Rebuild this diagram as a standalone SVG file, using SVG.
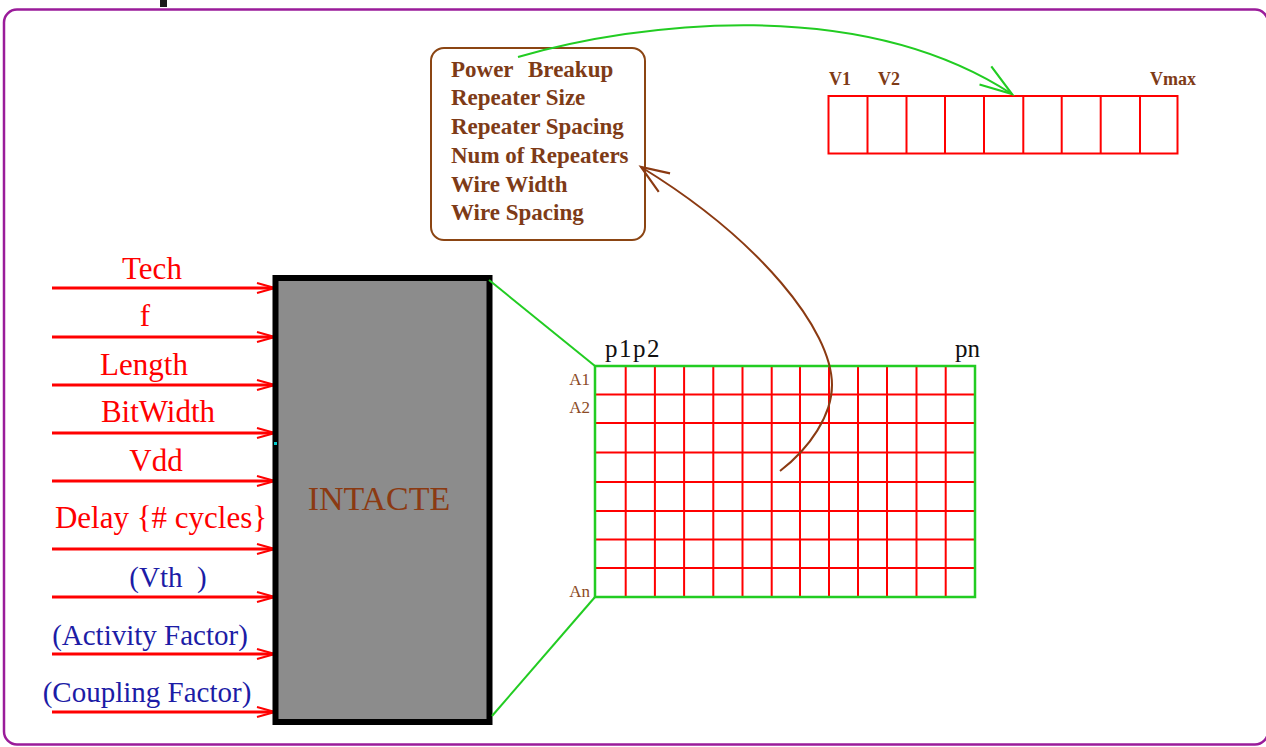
<svg xmlns="http://www.w3.org/2000/svg" width="1266" height="747" viewBox="0 0 1266 747">
<defs>
<style>
text{font-family:Liberation Serif,Times New Roman,serif}
.in{stroke:#ff0000;stroke-width:3;fill:none}
.lr{font-size:31px;fill:#ff0000;text-anchor:middle}
.lb{font-size:29px;fill:#1c1ca6;text-anchor:middle}
.bx{font-size:23px;font-weight:bold;fill:#7e3b17}
.vl{font-size:18px;font-weight:bold;fill:#7e3b17}
.al{font-size:17px;fill:#8b4a24;text-anchor:end}
.pl{font-size:25px;fill:#111}
.gr{stroke:#ff0000;stroke-width:2;fill:none}
</style>
<marker id="ar" markerUnits="userSpaceOnUse" markerWidth="24" markerHeight="14" refX="0" refY="0" viewBox="-20 -7 22 14" orient="auto" overflow="visible">
<path d="M-18,-5 L0,0 L-18,5" fill="none" stroke="#ff0000" stroke-width="2"/>
</marker>
<marker id="ag" markerUnits="userSpaceOnUse" markerWidth="40" markerHeight="40" refX="0" refY="0" viewBox="-35 -15 37 30" orient="auto" overflow="visible">
<path d="M-30,-11 L0,0 L-30,9" fill="none" stroke="#22cc22" stroke-width="2"/>
</marker>
<marker id="ab" markerUnits="userSpaceOnUse" markerWidth="40" markerHeight="40" refX="0" refY="0" viewBox="-35 -15 37 30" orient="auto" overflow="visible">
<path d="M-26,-11 L0,0 L-26,9" fill="none" stroke="#8b3a12" stroke-width="2"/>
</marker>
</defs>
<rect width="1266" height="747" fill="#ffffff"/>
<g id="frame">
<rect x="4" y="9.5" width="1264" height="735" rx="13" fill="none" stroke="#9a1c9a" stroke-width="2.5"/>
<rect x="160" y="0" width="7" height="7" fill="#1a1a1a"/>
</g>
<g id="inputs">
<line class="in" x1="52" y1="288" x2="275" y2="288" marker-end="url(#ar)"/>
<line class="in" x1="52" y1="337" x2="275" y2="337" marker-end="url(#ar)"/>
<line class="in" x1="52" y1="385" x2="275" y2="385" marker-end="url(#ar)"/>
<line class="in" x1="52" y1="433" x2="275" y2="433" marker-end="url(#ar)"/>
<line class="in" x1="52" y1="481" x2="275" y2="481" marker-end="url(#ar)"/>
<line class="in" x1="52" y1="549" x2="275" y2="549" marker-end="url(#ar)"/>
<line class="in" x1="52" y1="597" x2="275" y2="597" marker-end="url(#ar)"/>
<line class="in" x1="52" y1="654" x2="275" y2="654" marker-end="url(#ar)"/>
<line class="in" x1="52" y1="712" x2="275" y2="712" marker-end="url(#ar)"/>
<text class="lr" x="152" y="279">Tech</text>
<text class="lr" x="145" y="326">f</text>
<text class="lr" x="144" y="375">Length</text>
<text class="lr" x="158" y="422">BitWidth</text>
<text class="lr" x="156" y="471">Vdd</text>
<text class="lr" x="161" y="528">Delay {# cycles}</text>
<text class="lb" x="168" y="587">(Vth&#160; )</text>
<text class="lb" x="150" y="645">(Activity Factor)</text>
<text class="lb" x="147" y="702">(Coupling Factor)</text>
</g>
<g id="intacte">
<rect x="275.5" y="278" width="214" height="444" fill="#8c8c8c" stroke="#000" stroke-width="6"/>
<rect x="274" y="442" width="3" height="3" fill="#00cccc"/>
<text x="379" y="510" font-size="34" fill="#8b3a12" text-anchor="middle">INTACTE</text>
</g>
<g id="zoomlines">
<line x1="489" y1="280" x2="595" y2="366" stroke="#22cc22" stroke-width="2"/>
<line x1="492" y1="716" x2="595" y2="597" stroke="#22cc22" stroke-width="2"/>
</g>
<g id="grid">
<path class="gr" d="M625.7,366V597M654.9,366V597M684.1,366V597M713.3,366V597M742.5,366V597M771.7,366V597M800,366V597M829,366V597M858,366V597M887,366V597M916.5,366V597M945.7,366V597"/>
<path class="gr" d="M595,394.5H975M595,423H975M595,452.5H975M595,482H975M595,511H975M595,539.5H975M595,568H975"/>
<rect x="595" y="366" width="380" height="231" fill="none" stroke="#22cc22" stroke-width="2.5"/>
<text class="pl" x="605" y="357" letter-spacing="1.5">p1p2</text>
<text class="pl" x="955" y="357">pn</text>
<text class="al" x="590" y="385">A1</text>
<text class="al" x="590" y="413">A2</text>
<text class="al" x="590" y="597">An</text>
</g>
<g id="params">
<rect x="431" y="48" width="214" height="192" rx="13" fill="#fff" stroke="#8b4513" stroke-width="2"/>
<text class="bx" x="451" y="77">Power<tspan x="528">Breakup</tspan></text>
<text class="bx" x="451" y="105">Repeater Size</text>
<text class="bx" x="451" y="134">Repeater Spacing</text>
<text class="bx" x="451" y="163">Num of Repeaters</text>
<text class="bx" x="451" y="192">Wire Width</text>
<text class="bx" x="451" y="220">Wire Spacing</text>
</g>
<g id="vdd-array">
<rect x="828.5" y="96" width="349" height="57.5" fill="none" stroke="#ff0000" stroke-width="2"/>
<path d="M867.5,96V153.5M906.5,96V153.5M945,96V153.5M984,96V153.5M1023.3,96V153.5M1061.7,96V153.5M1100.7,96V153.5M1140,96V153.5" stroke="#ff0000" stroke-width="2" fill="none"/>
<text class="vl" x="829" y="85">V1</text>
<text class="vl" x="878" y="85">V2</text>
<text class="vl" x="1150" y="85">Vmax</text>
</g>
<g id="connectors">
<path d="M518,57 C640,22 860,-5 1012,94" fill="none" stroke="#22cc22" stroke-width="2" marker-end="url(#ag)"/>
<path d="M780,471 C810,448 832,415 832,385 C832,330 760,240 641,167" fill="none" stroke="#8b3a12" stroke-width="2" marker-end="url(#ab)"/>
</g>
</svg>
